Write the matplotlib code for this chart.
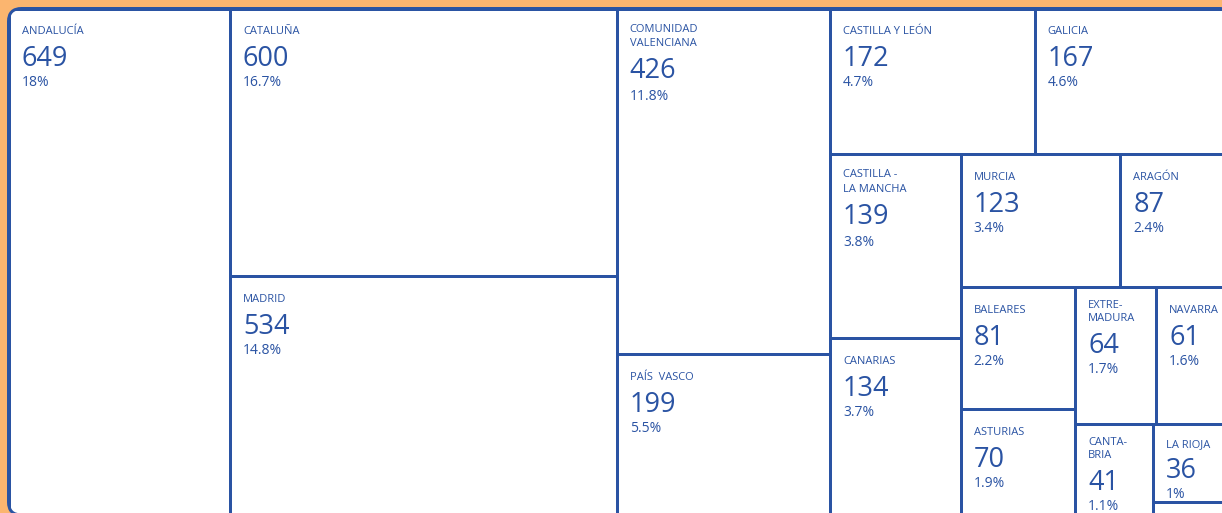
import matplotlib
matplotlib.use("Agg")
import matplotlib.pyplot as plt
from matplotlib.patches import Rectangle, FancyBboxPatch

# ---- data ----
regions = ["ANDALUCÍA", "CATALUÑA", "MADRID", "COMUNIDAD\nVALENCIANA", "PAÍS  VASCO",
           "CASTILLA Y LEÓN", "GALICIA", "CASTILLA -\nLA MANCHA", "CANARIAS", "MURCIA",
           "ARAGÓN", "BALEARES", "ASTURIAS", "EXTRE-\nMADURA", "NAVARRA",
           "CANTA-\nBRIA", "LA RIOJA", "CEUTA Y MELILLA"]
values = [649, 600, 534, 426, 199, 172, 167, 139, 134, 123, 87, 81, 70, 64, 61, 41, 36, 6]
percents = ["18%", "16.7%", "14.8%", "11.8%", "5.5%", "4.7%", "4.6%", "3.8%", "3.7%",
            "3.4%", "2.4%", "2.2%", "1.9%", "1.7%", "1.6%", "1.1%", "1%", ""]

# nested slice layout (h = split horizontally, v = split vertically)
tree = ('h', [0, ('v', [1, 2]), ('v', [3, 4]),
              ('v', [('h', [5, 6]),
                     ('h', [('v', [7, 8]),
                            ('v', [('h', [9, 10]),
                                   ('h', [('v', [11, 12]),
                                          ('v', [('h', [13, 14]),
                                                 ('h', [15, ('v', [16, 17])])])])])])])])

ORANGE = "#FBB56F"
BLUE = "#2A53A3"
W, H = 1222, 513
X0, Y0, X1, Y1 = 8.5, 8.5, 1233, 515


def total(node):
    if isinstance(node, int):
        return values[node]
    return sum(total(c) for c in node[1])


rects = {}


def layout(node, x0, y0, x1, y1):
    if isinstance(node, int):
        rects[node] = (x0, y0, x1, y1)
        return
    kind, children = node
    tot = total(node)
    pos = x0 if kind == 'h' else y0
    for c in children:
        frac = total(c) / tot
        if kind == 'h':
            w = (x1 - x0) * frac
            layout(c, pos, y0, pos + w, y1)
            pos += w
        else:
            h = (y1 - y0) * frac
            layout(c, x0, pos, x1, pos + h)
            pos += h


layout(tree, X0, Y0, X1, Y1)

fig = plt.figure(figsize=(W / 100, H / 100), dpi=100, facecolor=ORANGE)
ax = fig.add_axes([0, 0, 1, 1])
ax.set_xlim(0, W)
ax.set_ylim(H, 0)
ax.axis("off")
ax.set_facecolor(ORANGE)

lw = 3 * 72 / 100
outer = FancyBboxPatch((X0, Y0), X1 - X0, Y1 - Y0,
                       boxstyle="round,pad=0,rounding_size=13",
                       facecolor="white", edgecolor=BLUE, linewidth=lw, zorder=1)
ax.add_patch(outer)

for i, (x0, y0, x1, y1) in rects.items():
    r = Rectangle((x0, y0), x1 - x0, y1 - y0, facecolor="none", edgecolor=BLUE,
                  linewidth=lw, zorder=2)
    ax.add_patch(r)
    r.set_clip_path(outer)

font = "Open Sans"
for i, (x0, y0, x1, y1) in rects.items():
    if not percents[i]:
        continue
    lines = regions[i].split("\n")
    tx = x0 + 13
    small = (min(y1, H) - y0) < 150
    if len(lines) == 1:
        if small and (min(y1, H) - y0) < 100:
            lbl_b = [y0 + 23]
            num_b, pct_b = y0 + 54, y0 + 74
        else:
            lbl_b = [y0 + 26]
            num_b, pct_b = y0 + 58, y0 + 78
    else:
        if small:
            lbl_b = [y0 + 21, y0 + 34]
            num_b, pct_b = y0 + 66, y0 + 86
        else:
            lbl_b = [y0 + 23, y0 + 38]
            num_b, pct_b = y0 + 70, y0 + 92
    for ln, b in zip(lines, lbl_b):
        ax.text(tx, b, ln, fontsize=8, color=BLUE, family=font, va="baseline",
                ha="left", zorder=3)
    ax.text(tx, num_b, str(values[i]), fontsize=19.5, color=BLUE, family=font,
            va="baseline", ha="left", zorder=3)
    ax.text(tx, pct_b, percents[i], fontsize=10, color=BLUE, family=font,
            va="baseline", ha="left", zorder=3)

fig.savefig("out.png", dpi=100, facecolor=ORANGE)
